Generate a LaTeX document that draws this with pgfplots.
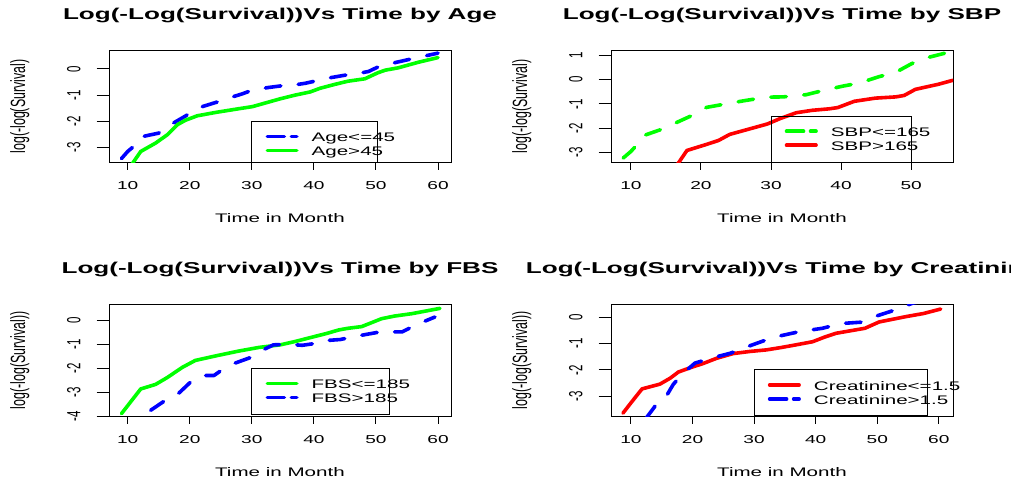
\documentclass[border=0pt]{standalone}
\usepackage{fontspec}
\setmainfont{Liberation Sans}
\usepackage{graphicx}
\usepackage{pgfplots}
\pgfplotsset{compat=1.18}
\newcommand\sx[1]{\scalebox{1.66}[1]{#1}}
\newcommand\sy[1]{\scalebox{1}[1.66]{#1}}
\newcommand\tickfont{\fontsize{11.5}{13}\selectfont}
\newcommand\labfont{\fontsize{12.4}{14}\selectfont}
\newcommand\titfont{\fontsize{15.7}{18}\selectfont\bfseries}
\newcommand\lgs[1]{\rule[-3.6pt]{0pt}{16pt}\sx{#1}}
\pgfplotsset{
  rpanel/.style={
    scale only axis, width=342pt, height=112pt,
    anchor=south west,
    axis line style={black, line width=1pt},
    tick align=outside, tick pos=left,
    major tick style={black, line width=1pt},
    xtick style={/pgfplots/major tick length=7.4pt},
    ytick style={/pgfplots/major tick length=12.3pt},
    xticklabel style={font=\tickfont, anchor=base, inner sep=0pt},
    yticklabel style={font=\tickfont, anchor=base, rotate=90, inner sep=0pt},
    xticklabel shift=23pt, yticklabel shift=24.4pt,
    title style={font=\titfont, at={([yshift=24.7pt]axis description cs:0.5,1)}, anchor=base, inner sep=0pt},
    xlabel style={font=\labfont, at={([yshift=-60pt]axis description cs:0.5,0)}, anchor=base, inner sep=0pt},
    ylabel style={font=\labfont, at={([xshift=-84pt]axis description cs:0,0.5)}, anchor=base, inner sep=0pt},
    xlabel={\sx{Time in Month}},
    legend style={anchor=north west, draw=none, fill=none, font=\labfont,
      inner xsep=13.5pt, inner ysep=8pt, row sep=0pt, column sep=13pt,
      nodes={inner sep=0pt, anchor=west}},
    legend cell align=left,
    legend image code/.code={\draw[#1] (0pt,0pt) -- (29.5pt,0pt);},
  },
  sol/.style={line width=3.6pt, line cap=round, line join=round},
  dsh/.style={line width=3.6pt, line cap=round, line join=round, dash pattern=on 15.5pt off 17.5pt,
    legend image post style={dash pattern=on 17pt off 7pt}},
}
\begin{document}
\begin{tikzpicture}
\useasboundingbox (0,0) rectangle (1011pt,481pt);
\clip (0,0) rectangle (1011pt,481pt);

% Panel 1: Age
\begin{axis}[rpanel, at={(109pt,318.5pt)},
  xmin=6.99, xmax=62.09, ymin=-3.57, ymax=0.70,
  xtick={10,20,30,40,50,60}, xticklabels={\sx{10},\sx{20},\sx{30},\sx{40},\sx{50},\sx{60}},
  ytick={-3,-2,-1,0}, yticklabels={\sy{-3},\sy{-2},\sy{-1},\sy{0}},
  title={\sx{Log(-Log(Survival))Vs Time by Age}},
  ylabel={\sy{log(-log(Survival)}},
  legend style={at={(axis cs:30,-2)}}]
\addplot[blue, dsh] coordinates {(9.0,-3.42) (10.0,-3.15) (10.8,-2.99) (11.8,-2.62) (13.0,-2.55) (15.0,-2.45) (16.9,-2.13) (19.3,-1.80) (21.2,-1.50) (24.2,-1.28) (26.6,-1.09) (28.5,-0.95) (30.1,-0.81) (32.7,-0.71) (35.0,-0.64) (36.4,-0.63) (38.6,-0.55) (40.5,-0.45) (42.1,-0.36) (44.8,-0.25) (47.7,-0.15) (48.8,-0.10) (50.4,0.08) (53.3,0.25) (56.3,0.41) (60.0,0.60)};
\addlegendentry{\lgs{Age<=45}}
\addplot[green, sol] coordinates {(10.5,-3.70) (12.1,-3.15) (14.5,-2.83) (16.4,-2.51) (18.0,-2.13) (19.3,-1.96) (21.2,-1.79) (24.2,-1.66) (27.9,-1.52) (30.1,-1.44) (32.2,-1.30) (34.6,-1.14) (37.0,-1.00) (39.4,-0.88) (41.0,-0.74) (43.4,-0.59) (45.5,-0.47) (48.2,-0.38) (50.3,-0.15) (51.5,-0.05) (53.6,0.04) (56.8,0.25) (60.0,0.43)};
\addlegendentry{\lgs{Age>45}}
\draw[black, line width=0.9pt] (axis cs:30,-3.57) -- (axis cs:30,-2) -- (axis cs:50.3,-2) -- (axis cs:50.3,-3.57);
\end{axis}

% Panel 2: SBP
\begin{axis}[rpanel, at={(611pt,318.6pt)},
  xmin=7.16, xmax=55.97, ymin=-3.40, ymax=1.20,
  xtick={10,20,30,40,50}, xticklabels={\sx{10},\sx{20},\sx{30},\sx{40},\sx{50}},
  ytick={-3,-2,-1,0,1}, yticklabels={\sy{-3},\sy{-2},\sy{-1},\sy{0},\sy{1}},
  title={\sx{Log(-Log(Survival))Vs Time by SBP}},
  ylabel={\sy{log(-log(Survival)}},
  legend style={at={(axis cs:30,-1.5)}}]
\addplot[green, dsh] coordinates {(8.9,-3.22) (10.0,-2.95) (10.7,-2.73) (11.6,-2.32) (14.2,-2.06) (16.3,-1.79) (18.9,-1.45) (20.8,-1.14) (23.9,-0.98) (26.3,-0.86) (29.4,-0.72) (31.7,-0.71) (35.0,-0.62) (37.4,-0.45) (40.2,-0.27) (42.6,-0.14) (45.4,0.12) (47.8,0.30) (50.1,0.66) (52.0,0.88) (54.2,1.04) (55.0,1.10)};
\addlegendentry{\lgs{SBP<=165}}
\addplot[red, sol] coordinates {(16.6,-3.50) (18.0,-2.91) (20.8,-2.66) (22.5,-2.50) (24.1,-2.25) (27.5,-1.98) (29.5,-1.82) (31.3,-1.60) (33.6,-1.36) (35.9,-1.26) (38.3,-1.20) (39.5,-1.15) (41.9,-0.89) (44.9,-0.76) (47.8,-0.71) (49.0,-0.65) (50.6,-0.40) (53.9,-0.19) (55.8,-0.04) (56.5,0.0)};
\addlegendentry{\lgs{SBP>165}}
\draw[black, line width=0.9pt] (axis cs:30,-3.40) -- (axis cs:30,-1.5) -- (axis cs:50,-1.5) -- (axis cs:50,-3.40);
\end{axis}

% Panel 3: FBS
\begin{axis}[rpanel, at={(109pt,64.7pt)},
  xmin=6.99, xmax=62.09, ymin=-4.0, ymax=0.67,
  xtick={10,20,30,40,50,60}, xticklabels={\sx{10},\sx{20},\sx{30},\sx{40},\sx{50},\sx{60}},
  ytick={-4,-3,-2,-1,0}, yticklabels={\sy{-4},\sy{-3},\sy{-2},\sy{-1},\sy{0}},
  title={\sx{Log(-Log(Survival))Vs Time by FBS}},
  ylabel={\sy{log(-log(Survival))}},
  legend style={at={(axis cs:30,-2)}}]
\addplot[green, sol] coordinates {(9.0,-3.89) (10.5,-3.39) (12.1,-2.86) (14.5,-2.67) (16.4,-2.38) (18.8,-1.96) (20.9,-1.67) (24.2,-1.48) (27.9,-1.28) (31.1,-1.13) (34.6,-1.02) (37.0,-0.88) (39.4,-0.72) (42.0,-0.55) (44.0,-0.40) (45.5,-0.33) (47.7,-0.26) (50.9,0.07) (53.0,0.18) (55.8,0.28) (60.3,0.50)};
\addlegendentry{\lgs{FBS<=185}}
\addplot[blue, dsh] coordinates {(13.7,-3.75) (16.1,-3.33) (18.3,-3.02) (20.1,-2.58) (22.0,-2.30) (23.9,-2.30) (25.0,-2.10) (26.9,-1.82) (30.1,-1.52) (32.2,-1.18) (33.5,-1.02) (36.0,-1.00) (38.1,-1.04) (40.0,-0.97) (41.5,-0.85) (44.2,-0.80) (47.7,-0.62) (50.7,-0.48) (54.2,-0.48) (56.6,-0.17) (59.5,0.14)};
\addlegendentry{\lgs{FBS>185}}
\draw[black, line width=0.9pt] (axis cs:30,-3.93) rectangle (axis cs:52.2,-2);
\end{axis}

% Panel 4: Creatinine
\begin{axis}[rpanel, at={(611pt,64.7pt)},
  xmin=6.76, xmax=62.3, ymin=-3.76, ymax=0.49,
  xtick={10,20,30,40,50,60}, xticklabels={\sx{10},\sx{20},\sx{30},\sx{40},\sx{50},\sx{60}},
  ytick={-3,-2,-1,0}, yticklabels={\sy{-3},\sy{-2},\sy{-1},\sy{0}},
  title={\sx{Log(-Log(Survival))Vs Time by Creatinine}},
  ylabel={\sy{log(-log(Survival))}},
  legend style={at={(axis cs:30,-2)}}]
\addplot[red, sol] coordinates {(8.7,-3.64) (10.2,-3.19) (11.8,-2.72) (14.7,-2.54) (16.4,-2.31) (17.7,-2.08) (19.6,-1.92) (21.8,-1.75) (23.9,-1.56) (26.6,-1.38) (29.3,-1.30) (32.0,-1.24) (34.4,-1.15) (37.0,-1.04) (39.5,-0.93) (41.5,-0.75) (43.3,-0.61) (46.5,-0.48) (48.0,-0.42) (50.3,-0.18) (54.6,0.02) (57.5,0.14) (60.3,0.31)};
\addlegendentry{\lgs{Creatinine<=1.5}}
\addplot[blue, dsh] coordinates {(12.4,-3.85) (13.9,-3.38) (15.8,-2.97) (16.9,-2.54) (18.5,-2.12) (20.4,-1.74) (23.1,-1.55) (26.1,-1.37) (29.0,-1.11) (31.5,-0.90) (34.4,-0.70) (37.3,-0.55) (41.1,-0.42) (44.1,-0.24) (47.3,-0.19) (49.8,0.04) (52.7,0.26) (55.7,0.53) (57.0,0.60)};
\addlegendentry{\lgs{Creatinine>1.5}}
\draw[black, line width=0.9pt] (axis cs:30,-3.74) rectangle (axis cs:58.1,-2);
\end{axis}
\end{tikzpicture}
\end{document}
